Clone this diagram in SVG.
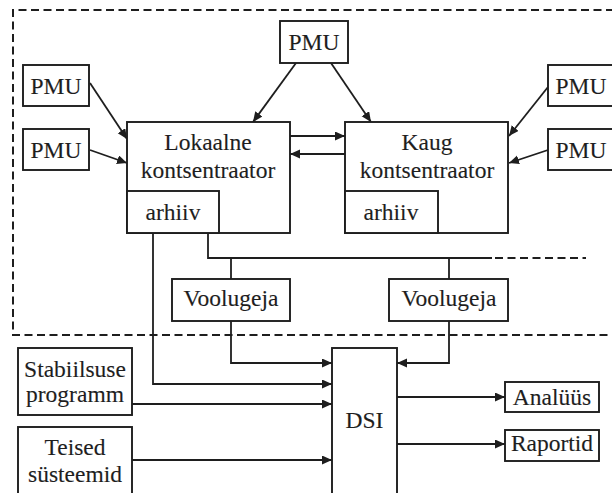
<svg xmlns="http://www.w3.org/2000/svg" width="612" height="493" viewBox="0 0 612 493">
  <style>
    .box { fill: #ffffff; stroke: #1e1e1e; stroke-width: 1.9; }
    .txt { font-family: "Liberation Serif", "Times New Roman", serif; font-size: 23.5px; fill: #1e1e1e; stroke: #1e1e1e; stroke-width: 0.12; text-anchor: middle; }
    .ln { fill: none; stroke: #1e1e1e; stroke-width: 1.8; }
    .arr { fill: none; stroke: #1e1e1e; stroke-width: 1.8; marker-end: url(#ah); }
    .dash { fill: none; stroke: #1e1e1e; stroke-width: 2; stroke-dasharray: 8 4.5; }
  </style>
  <defs>
    <marker id="ah" markerUnits="userSpaceOnUse" markerWidth="11" markerHeight="10" refX="10" refY="4.5" orient="auto">
      <path d="M0,0 L10,4.5 L0,9 z" fill="#1e1e1e"/>
    </marker>
  </defs>
  <rect width="612" height="493" fill="#ffffff"/>

  <!-- dashed boundary of the measurement system -->
  <g id="boundary">
    <path class="dash" d="M614,10 H13 V335 H614"/>
  </g>

  <!-- connectors -->
  <g id="connectors">
    <line class="arr" x1="90" y1="83" x2="127" y2="139"/>
    <line class="arr" x1="90" y1="150" x2="127" y2="163"/>
    <line class="arr" x1="296" y1="63" x2="253" y2="122"/>
    <line class="arr" x1="331" y1="63" x2="371" y2="122"/>
    <line class="arr" x1="548" y1="87" x2="509" y2="136"/>
    <line class="arr" x1="548" y1="150" x2="509" y2="163"/>
    <line class="arr" x1="290" y1="136" x2="345" y2="136"/>
    <line class="arr" x1="345" y1="154" x2="290" y2="154"/>
    <!-- bus from local archive to stream splitters -->
    <path class="ln" d="M208,233 V258 H492"/>
    <path class="dash" d="M495,258 H586" stroke-width="1.8"/>
    <line class="ln" x1="231" y1="258" x2="231" y2="279"/>
    <line class="ln" x1="449" y1="258" x2="449" y2="279"/>
    <!-- inputs to DSI -->
    <path class="arr" d="M231,321 V363 H332"/>
    <path class="arr" d="M449,321 V363 H397"/>
    <path class="arr" d="M153,233 V384 H332"/>
    <line class="arr" x1="132" y1="404" x2="332" y2="404"/>
    <line class="arr" x1="132" y1="460" x2="332" y2="460"/>
    <!-- outputs of DSI -->
    <line class="arr" x1="397" y1="397" x2="505" y2="397"/>
    <line class="arr" x1="397" y1="444" x2="505" y2="444"/>
  </g>

  <g id="pmu-top">
    <rect class="box" x="280" y="21" width="68" height="42"/>
    <text class="txt" x="314" y="50">PMU</text>
  </g>
  <g id="pmu-left-1">
    <rect class="box" x="23" y="65" width="66" height="41"/>
    <text class="txt" x="56" y="94">PMU</text>
  </g>
  <g id="pmu-left-2">
    <rect class="box" x="23" y="129" width="66" height="41"/>
    <text class="txt" x="56" y="158">PMU</text>
  </g>
  <g id="pmu-right-1">
    <rect class="box" x="548" y="65" width="68" height="41"/>
    <text class="txt" x="581" y="94">PMU</text>
  </g>
  <g id="pmu-right-2">
    <rect class="box" x="548" y="129" width="68" height="41"/>
    <text class="txt" x="581" y="158">PMU</text>
  </g>

  <g id="local-concentrator">
    <rect class="box" x="127" y="122" width="163" height="111"/>
    <text class="txt" x="208" y="150">Lokaalne</text>
    <text class="txt" x="208" y="178">kontsentraator</text>
    <rect class="box" x="127" y="191" width="92" height="42"/>
    <text class="txt" x="173" y="220">arhiiv</text>
  </g>

  <g id="remote-concentrator">
    <rect class="box" x="345" y="122" width="163" height="111"/>
    <text class="txt" x="427" y="150">Kaug</text>
    <text class="txt" x="427" y="178">kontsentraator</text>
    <rect class="box" x="345" y="191" width="93" height="42"/>
    <text class="txt" x="391" y="220">arhiiv</text>
  </g>

  <g id="stream-1">
    <rect class="box" x="172" y="279" width="118" height="42"/>
    <text class="txt" x="231" y="306">Voolugeja</text>
  </g>
  <g id="stream-2">
    <rect class="box" x="389" y="279" width="119" height="42"/>
    <text class="txt" x="449" y="306">Voolugeja</text>
  </g>

  <g id="dsi">
    <rect class="box" x="332" y="348" width="65" height="150"/>
    <text class="txt" x="364.5" y="428">DSI</text>
  </g>

  <g id="stability">
    <rect class="box" x="18" y="348" width="114" height="67"/>
    <text class="txt" x="75" y="377">Stabiilsuse</text>
    <text class="txt" x="75" y="402">programm</text>
  </g>
  <g id="other-systems">
    <rect class="box" x="18" y="427" width="114" height="72"/>
    <text class="txt" x="75" y="455">Teised</text>
    <text class="txt" x="75" y="482">süsteemid</text>
  </g>

  <g id="analysis">
    <rect class="box" x="505" y="382" width="94" height="30"/>
    <text class="txt" x="552" y="405">Analüüs</text>
  </g>
  <g id="reports">
    <rect class="box" x="505" y="430" width="94" height="31" stroke="#444444"/>
    <text class="txt" x="552" y="451">Raportid</text>
  </g>
</svg>
